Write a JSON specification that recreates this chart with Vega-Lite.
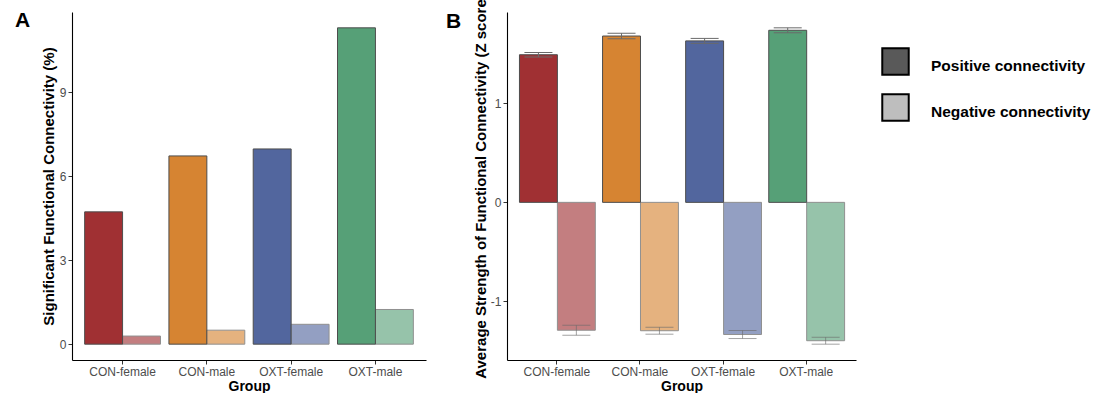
{
  "$schema": "https://vega.github.io/schema/vega-lite/v6.json",
  "background": "white",
  "padding": {"left": 15, "top": -7, "right": 0, "bottom": 0},
  "spacing": 20,
  "config": {
    "view": {"stroke": null},
    "axis": {
      "grid": false,
      "domainColor": "black",
      "domainWidth": 1.1,
      "tickColor": "#333333",
      "tickSize": 4,
      "labelColor": "#4D4D4D",
      "labelFont": "Liberation Sans",
      "labelFontSize": 12,
      "labelPadding": 2,
      "titleFont": "Liberation Sans",
      "titleFontSize": 14,
      "titleFontWeight": "bold",
      "titleColor": "black"
    },
    "axisY": {"titlePadding": 3, "titleFontSize": 15},
    "axisX": {"titlePadding": 2, "labelAngle": 0}
  },
  "hconcat": [
    {
      "width": 354,
      "height": 348,
      "title": {"text": "A", "anchor": "start", "frame": "group", "dx": -57, "offset": -19, "baseline": "top", "font": "Liberation Sans", "fontSize": 21, "fontWeight": "bold", "color": "black"},
      "data": {"values": [
        {"group": "CON-female", "type": "Positive connectivity", "value": 4.73},
        {"group": "CON-female", "type": "Negative connectivity", "value": 0.29},
        {"group": "CON-male", "type": "Positive connectivity", "value": 6.73},
        {"group": "CON-male", "type": "Negative connectivity", "value": 0.50},
        {"group": "OXT-female", "type": "Positive connectivity", "value": 6.98},
        {"group": "OXT-female", "type": "Negative connectivity", "value": 0.71},
        {"group": "OXT-male", "type": "Positive connectivity", "value": 11.31},
        {"group": "OXT-male", "type": "Negative connectivity", "value": 1.24}
      ]},
      "mark": {"type": "bar", "stroke": "#4D4D4D", "strokeWidth": 1},
      "encoding": {
        "x": {"field": "group", "type": "nominal", "sort": ["CON-female", "CON-male", "OXT-female", "OXT-male"], "scale": {"paddingInner": 0.1, "paddingOuter": 0.15}, "axis": {"title": "Group"}},
        "xOffset": {"field": "type", "type": "nominal", "sort": ["Positive connectivity", "Negative connectivity"]},
        "y": {"field": "value", "type": "quantitative", "scale": {"domain": [-0.566, 11.876], "nice": false, "zero": false}, "axis": {"values": [0, 3, 6, 9], "labelExpr": "'' + datum.value", "title": "Significant Functional Connectivity (%)"}},
        "fill": {"field": "group", "type": "nominal", "scale": {"domain": ["CON-female", "CON-male", "OXT-female", "OXT-male"], "range": ["#A03033", "#D68432", "#52669E", "#56A077"]}, "legend": null},
        "opacity": {"field": "type", "type": "nominal", "scale": {"domain": ["Negative connectivity", "Positive connectivity"], "range": [0.62, 1]}, "legend": null}
      }
    },
    {
      "width": 349,
      "height": 348,
      "title": {"text": "B", "anchor": "start", "frame": "group", "dx": -61, "offset": -38, "baseline": "top", "font": "Liberation Sans", "fontSize": 21, "fontWeight": "bold", "color": "black"},
      "data": {"values": [
        {"group": "CON-female", "type": "Positive connectivity", "mean": 1.493, "lo": 1.470, "hi": 1.516},
        {"group": "CON-female", "type": "Negative connectivity", "mean": -1.293, "lo": -1.343, "hi": -1.243},
        {"group": "CON-male", "type": "Positive connectivity", "mean": 1.682, "lo": 1.654, "hi": 1.710},
        {"group": "CON-male", "type": "Negative connectivity", "mean": -1.298, "lo": -1.333, "hi": -1.263},
        {"group": "OXT-female", "type": "Positive connectivity", "mean": 1.633, "lo": 1.608, "hi": 1.658},
        {"group": "OXT-female", "type": "Negative connectivity", "mean": -1.336, "lo": -1.377, "hi": -1.296},
        {"group": "OXT-male", "type": "Positive connectivity", "mean": 1.740, "lo": 1.715, "hi": 1.765},
        {"group": "OXT-male", "type": "Negative connectivity", "mean": -1.399, "lo": -1.434, "hi": -1.364}
      ]},
      "encoding": {
        "x": {"field": "group", "type": "nominal", "sort": ["CON-female", "CON-male", "OXT-female", "OXT-male"], "scale": {"paddingInner": 0.1, "paddingOuter": 0.15}, "axis": {"title": "Group"}},
        "xOffset": {"field": "type", "type": "nominal", "sort": ["Positive connectivity", "Negative connectivity"]}
      },
      "layer": [
        {
          "mark": {"type": "bar", "stroke": "#4D4D4D", "strokeWidth": 1},
          "encoding": {
            "y": {"field": "mean", "type": "quantitative", "scale": {"domain": [-1.594, 1.925], "nice": false, "zero": false}, "axis": {"values": [-1, 0, 1], "labelExpr": "'' + datum.value", "title": "Average Strength of Functional Connectivity (Z score)", "titlePadding": 2}},
            "fill": {"field": "group", "type": "nominal", "scale": {"domain": ["CON-female", "CON-male", "OXT-female", "OXT-male"], "range": ["#A03033", "#D68432", "#52669E", "#56A077"]}, "legend": null},
            "opacity": {"field": "type", "type": "nominal", "scale": {"domain": ["Negative connectivity", "Positive connectivity"], "range": [0.62, 1]}, "legend": null}
          }
        },
        {
          "mark": {"type": "bar", "opacity": 0},
          "encoding": {
            "y": {"field": "mean", "type": "quantitative"},
            "color": {"field": "type", "type": "nominal", "scale": {"domain": ["Positive connectivity", "Negative connectivity"], "range": ["#595959", "#BEBEBE"]},
              "legend": {"title": null, "orient": "none", "legendX": 809, "legendY": 35, "symbolType": "square", "symbolSize": 700, "symbolStrokeColor": "black", "symbolStrokeWidth": 2, "symbolOpacity": 1, "labelFont": "Liberation Sans", "labelFontSize": 15.5, "labelFontWeight": "bold", "labelColor": "black", "labelOffset": 21, "rowPadding": 11, "padding": 0,
                "encode": {"labels": {"update": {"dy": {"value": 4}}}}}}
          }
        },
        {
          "mark": {"type": "rule", "color": "#6A6A6A", "strokeWidth": 1},
          "encoding": {
            "y": {"field": "lo", "type": "quantitative"},
            "y2": {"field": "hi"},
            "opacity": {"field": "type", "type": "nominal", "legend": null}
          }
        },
        {
          "mark": {"type": "tick", "color": "#6A6A6A", "size": 28, "thickness": 1, "orient": "horizontal"},
          "encoding": {
            "y": {"field": "lo", "type": "quantitative"},
            "opacity": {"field": "type", "type": "nominal", "legend": null}
          }
        },
        {
          "mark": {"type": "tick", "color": "#6A6A6A", "size": 28, "thickness": 1, "orient": "horizontal"},
          "encoding": {
            "y": {"field": "hi", "type": "quantitative"},
            "opacity": {"field": "type", "type": "nominal", "legend": null}
          }
        }
      ]
    }
  ]
}
